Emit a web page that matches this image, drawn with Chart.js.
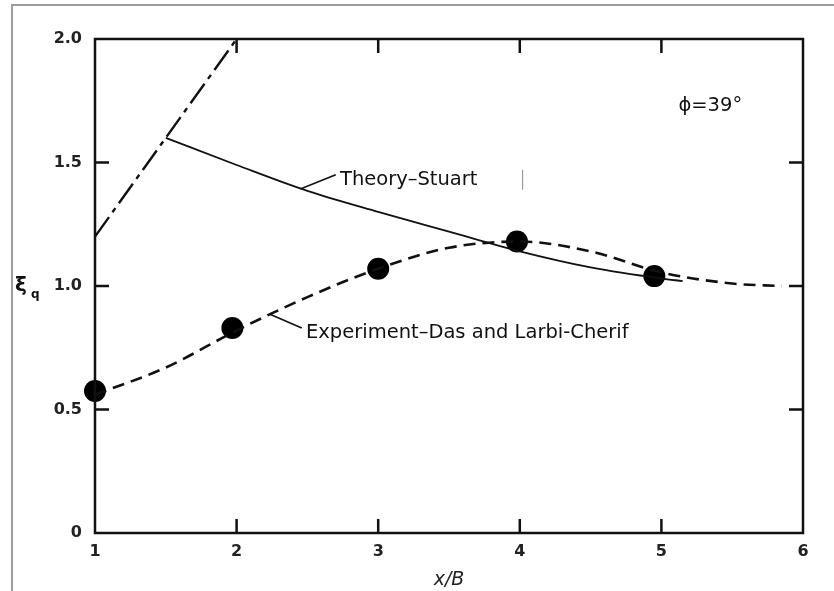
<!DOCTYPE html>
<html>
<head>
<meta charset="utf-8">
<script src="https://cdn.jsdelivr.net/npm/chart.js@4"></script>
<style>
  html, body { margin: 0; padding: 0; background: #fff; }
  #frame {
    position: absolute; left: 11px; top: 4px; right: 0; bottom: 0;
    border-left: 2px solid #9c9c9c; border-top: 2px solid #9c9c9c;
  }
  #wrap { position: absolute; left: 0; top: 0; width: 834px; height: 591px; }
</style>
</head>
<body>
<div id="frame"></div>
<div id="wrap"><canvas id="xiChart" width="834" height="591"></canvas></div>
<script>
// =============================
// Data
// =============================
const xTicks = [1, 2, 3, 4, 5, 6];
const yTicks = [0, 0.5, 1.0, 1.5, 2.0];

// Experiment - Das and Larbi-Cherif (measured points)
const expPointX = [1.0, 1.97, 3.0, 3.98, 4.95];
const expPointY = [0.575, 0.83, 1.07, 1.18, 1.04];

// Experiment fitted dashed curve
const expCurveX = [1.0, 1.5, 2.0, 2.5, 3.0, 3.5, 4.0, 4.5, 5.0, 5.5, 5.85];
const expCurveY = [0.56, 0.67, 0.82, 0.955, 1.07, 1.155, 1.18, 1.14, 1.055, 1.01, 1.0];

// Theory - Stuart (solid)
const theoryX = [1.5, 2.0, 2.5, 3.0, 3.5, 4.0, 4.5, 5.0, 5.15];
const theoryY = [1.60, 1.49, 1.385, 1.30, 1.22, 1.14, 1.075, 1.03, 1.02];

// Dash-dot line
const dashDotX = [1.0, 2.0];
const dashDotY = [1.2, 2.0];

const toPoints = (xs, ys) => xs.map((x, i) => ({ x: x, y: ys[i] }));

// Text notes, in data units
const notes = [
  { text: "Theory\u2013Stuart", x: 2.73, y: 1.43, size: 19.5 },
  { text: "Experiment\u2013Das and Larbi-Cherif", x: 2.49, y: 0.81, size: 19.5 },
  { text: "\u03d5=39\u00b0", x: 5.12, y: 1.73, size: 19.5 }
];
const leaders = [
  { x1: 2.45, y1: 1.393, x2: 2.70, y2: 1.45 },
  { x1: 2.24, y1: 0.885, x2: 2.46, y2: 0.83 }
];

const INK = "#111";
const FONT = "'DejaVu Sans', 'Liberation Sans', sans-serif";

// =============================
// Frame, inward ticks, notes
// =============================
const framePlugin = {
  id: "frameTicks",
  afterDatasetsDraw(chart) {
    const { ctx, chartArea: a, scales: { x, y } } = chart;
    ctx.save();
    ctx.strokeStyle = INK;
    ctx.lineWidth = 2.5;
    ctx.strokeRect(a.left, a.top, a.right - a.left, a.bottom - a.top);

    const len = 14;
    ctx.beginPath();
    xTicks.slice(1, -1).forEach(v => {
      const px = x.getPixelForValue(v);
      ctx.moveTo(px, a.bottom); ctx.lineTo(px, a.bottom - len);
      ctx.moveTo(px, a.top); ctx.lineTo(px, a.top + len);
    });
    yTicks.slice(1, -1).forEach(v => {
      const py = y.getPixelForValue(v);
      ctx.moveTo(a.left, py); ctx.lineTo(a.left + len, py);
      ctx.moveTo(a.right, py); ctx.lineTo(a.right - len, py);
    });
    ctx.stroke();

    // leader lines
    ctx.lineWidth = 1.6;
    ctx.beginPath();
    leaders.forEach(l => {
      ctx.moveTo(x.getPixelForValue(l.x1), y.getPixelForValue(l.y1));
      ctx.lineTo(x.getPixelForValue(l.x2), y.getPixelForValue(l.y2));
    });
    ctx.stroke();

    // small scan mark next to the theory label
    ctx.strokeStyle = "#888";
    ctx.lineWidth = 1;
    ctx.beginPath();
    ctx.moveTo(x.getPixelForValue(4.02), y.getPixelForValue(1.47));
    ctx.lineTo(x.getPixelForValue(4.02), y.getPixelForValue(1.39));
    ctx.stroke();

    // notes
    ctx.fillStyle = INK;
    ctx.textBaseline = "middle";
    ctx.textAlign = "left";
    notes.forEach(n => {
      ctx.font = `${n.size}px ${FONT}`;
      ctx.fillText(n.text, x.getPixelForValue(n.x), y.getPixelForValue(n.y));
    });

    // y title: xi with subscript q
    const midY = y.getPixelForValue(1.0);
    ctx.font = `bold 20px ${FONT}`;
    ctx.fillText("\u03be", 15, midY);
    ctx.font = `bold 12px ${FONT}`;
    ctx.fillText("q", 31, midY + 9);
    ctx.restore();
  }
};

new Chart(document.getElementById("xiChart"), {
  type: "scatter",
  data: {
    datasets: [
      {
        label: "Experiment curve",
        data: toPoints(expCurveX, expCurveY),
        showLine: true,
        borderColor: INK,
        borderWidth: 2.6,
        borderDash: [12, 7],
        cubicInterpolationMode: "monotone",
        pointRadius: 0
      },
      {
        label: "Theory-Stuart",
        data: toPoints(theoryX, theoryY),
        showLine: true,
        borderColor: INK,
        borderWidth: 1.8,
        cubicInterpolationMode: "monotone",
        pointRadius: 0
      },
      {
        label: "Dash-dot",
        data: toPoints(dashDotX, dashDotY),
        showLine: true,
        borderColor: INK,
        borderWidth: 2.4,
        borderDash: [24, 6, 5, 6],
        pointRadius: 0
      },
      {
        label: "Experiment-Das and Larbi-Cherif",
        data: toPoints(expPointX, expPointY),
        showLine: false,
        pointRadius: 11,
        pointBackgroundColor: "#000",
        pointBorderColor: "#000",
        pointBorderWidth: 0
      }
    ]
  },
  options: {
    responsive: false,
    animation: false,
    clip: false,
    layout: { padding: { top: 39, right: 31, left: 0, bottom: 0 } },
    plugins: {
      legend: { display: false },
      tooltip: { enabled: false }
    },
    scales: {
      x: {
        type: "linear",
        min: 1, max: 6,
        afterFit: s => { s.height = 58; },
        afterBuildTicks: s => { s.ticks = xTicks.map(v => ({ value: v })); },
        grid: { display: false, drawTicks: false },
        border: { display: false },
        ticks: {
          padding: 9,
          color: "#222",
          font: { family: FONT, size: 16, weight: "bold" }
        },
        title: {
          display: true,
          text: "x/B",
          color: "#222",
          padding: { top: 9, bottom: 0 },
          font: { family: FONT, size: 19, style: "italic" }
        }
      },
      y: {
        type: "linear",
        min: 0, max: 2,
        afterFit: s => { s.width = 95; },
        afterBuildTicks: s => { s.ticks = yTicks.map(v => ({ value: v })); },
        grid: { display: false, drawTicks: false },
        border: { display: false },
        ticks: {
          padding: 13,
          color: "#222",
          font: { family: FONT, size: 16, weight: "bold" },
          callback: v => v === 0 ? "0" : v.toFixed(1)
        }
      }
    }
  },
  plugins: [framePlugin]
});
</script>
</body>
</html>
